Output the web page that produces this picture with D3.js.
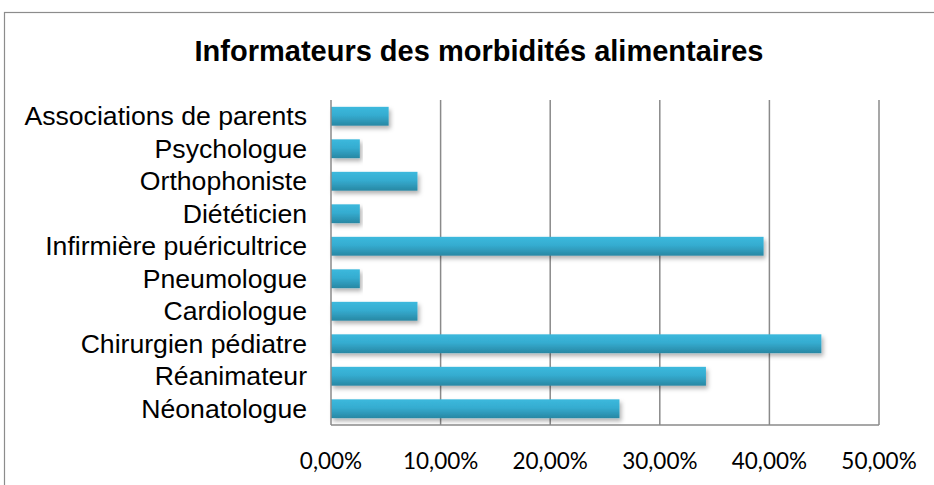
<!DOCTYPE html>
<html>
<head>
<meta charset="utf-8">
<script src="https://cdn.jsdelivr.net/npm/d3@7"></script>
<style>
  body { margin: 0; background: #fff; }
  svg { display: block; }
</style>
</head>
<body>
<div id="chart"></div>
<script>
// categories from top to bottom, as shown in the chart
const categories = [
  "Associations de parents",
  "Psychologue",
  "Orthophoniste",
  "Diététicien",
  "Infirmière puéricultrice",
  "Pneumologue",
  "Cardiologue",
  "Chirurgien pédiatre",
  "Réanimateur",
  "Néonatologue"
];
const values = [5.26, 2.63, 7.89, 2.63, 39.47, 2.63, 7.89, 44.74, 34.21, 26.32];
const xTicks = [0, 10, 20, 30, 40, 50];

const width = 934, height = 485;
const margin = { top: 100, right: 55, bottom: 60, left: 331 };

const svg = d3.select("#chart")
  .append("svg")
    .attr("width", width)
    .attr("height", height);

// gradient + shadow for the bars
const defs = svg.append("defs");
const grad = defs.append("linearGradient")
    .attr("id", "barGrad")
    .attr("x1", 0).attr("y1", 0).attr("x2", 0).attr("y2", 1);
grad.append("stop").attr("offset", "0%").attr("stop-color", "#3cb9dd");
grad.append("stop").attr("offset", "45%").attr("stop-color", "#35acd0");
grad.append("stop").attr("offset", "100%").attr("stop-color", "#2887a3");

const shadow = defs.append("filter")
    .attr("id", "shadow")
    .attr("x", "-5%").attr("y", "-30%")
    .attr("width", "115%").attr("height", "190%");
shadow.append("feDropShadow")
    .attr("dx", 2).attr("dy", 3)
    .attr("stdDeviation", 2)
    .attr("flood-color", "#000")
    .attr("flood-opacity", 0.3);

// outer chart frame (cut off at right and bottom)
svg.append("rect")
    .attr("x", 4.5).attr("y", 12.5)
    .attr("width", 1000).attr("height", 1000)
    .attr("fill", "none")
    .attr("stroke", "#8c8c8c")
    .attr("stroke-width", 1.2);

svg.append("text")
    .attr("x", 479).attr("y", 61)
    .attr("text-anchor", "middle")
    .attr("font-family", "Liberation Sans, Arial, sans-serif")
    .attr("font-weight", "bold")
    .attr("font-size", 29)
    .attr("fill", "#000")
    .text("Informateurs des morbidités alimentaires");

const x = d3.scaleLinear()
    .domain([0, 50])
    .range([margin.left, width - margin.right]);

const y = d3.scaleBand()
    .domain(categories)
    .range([margin.top, height - margin.bottom])
    .paddingInner(0.42)
    .paddingOuter(0.21);

// vertical gridlines
svg.append("g")
  .selectAll("line")
  .data(xTicks.slice(1))
  .join("line")
    .attr("x1", d => x(d)).attr("x2", d => x(d))
    .attr("y1", margin.top).attr("y2", height - margin.bottom)
    .attr("stroke", "#8a8a8a")
    .attr("stroke-width", 1.5);

// bars
svg.append("g")
  .selectAll("rect")
  .data(values)
  .join("rect")
    .attr("x", x(0))
    .attr("y", (d, i) => y(categories[i]))
    .attr("width", d => x(d) - x(0))
    .attr("height", y.bandwidth())
    .attr("fill", "url(#barGrad)")
    .attr("filter", "url(#shadow)");

// axis lines
svg.append("line")
    .attr("x1", x(0)).attr("x2", x(0))
    .attr("y1", margin.top).attr("y2", height - margin.bottom)
    .attr("stroke", "#8a8a8a").attr("stroke-width", 1.5);
svg.append("line")
    .attr("x1", x(0)).attr("x2", x(50))
    .attr("y1", height - margin.bottom).attr("y2", height - margin.bottom)
    .attr("stroke", "#8a8a8a").attr("stroke-width", 1.5);

// category labels (slightly stretched, like the original)
svg.append("g")
  .selectAll("text")
  .data(categories)
  .join("text")
    .attr("transform", d => `translate(307,${y(d) + y.bandwidth() / 2}) scale(1.065,1)`)
    .attr("dy", "0.35em")
    .attr("text-anchor", "end")
    .attr("font-family", "Liberation Sans, Arial, sans-serif")
    .attr("font-size", 25)
    .attr("fill", "#000")
    .text(d => d);

// x tick labels
const fmt = d => d.toFixed(2).replace(".", ",") + "%";
svg.append("g")
  .selectAll("text")
  .data(xTicks)
  .join("text")
    .attr("x", d => x(d))
    .attr("y", 469)
    .attr("text-anchor", "middle")
    .attr("font-family", "Lato, 'Open Sans', sans-serif")
    .attr("font-size", 22.5)
    .attr("fill", "#000")
    .text(fmt);
</script>
</body>
</html>
